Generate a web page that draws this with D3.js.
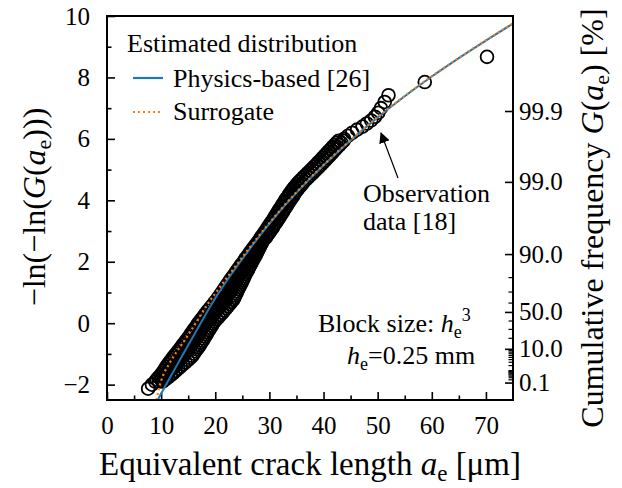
<!DOCTYPE html>
<html>
<head>
<meta charset="utf-8">
<script src="https://cdn.jsdelivr.net/npm/d3@7"></script>
<style>
  body { margin: 0; background: #fff; }
  svg text { font-family: "Liberation Serif", "Times New Roman", serif; fill: #000; }
</style>
</head>
<body>
<svg id="chart" width="622" height="488"></svg>
<script>
// x ticks (equivalent crack length, um)
const xMajor = [0, 10, 20, 30, 40, 50, 60, 70];
const xMinor = [5, 15, 25, 35, 45, 55, 65];
// left y ticks (reduced variate)
const yMajor = [-2, 0, 2, 4, 6, 8, 10];
const yMinor = [-1, 1, 3, 5, 7, 9];
// right axis: cumulative frequency
const gMajor = [0.999, 0.99, 0.9, 0.5, 0.1, 0.001];
const gLabels = ["99.9", "99.0", "90.0", "50.0", "10.0", "0.1"];
const gMinor = [0.8, 0.7, 0.6, 0.4, 0.3, 0.2, 0.09, 0.08, 0.07, 0.06, 0.05, 0.04, 0.03, 0.02, 0.01,
  0.009, 0.008, 0.007, 0.006, 0.005, 0.004, 0.003, 0.002];

// estimated distributions
const physAe = [9.35, 11, 13, 15, 17.5, 20, 23, 26, 29, 32, 36, 40, 45, 50, 55, 60, 65, 70, 75];
const physY = [-2.5, -1.97, -1.34, -0.72, 0.06, 0.81, 1.6, 2.33, 3.02, 3.66, 4.43, 5.14, 5.95, 6.7, 7.39, 8.03, 8.63, 9.2, 9.75];
const surrAe = [9.15, 9.5, 10.0, 10.6, 11.4, 12.3, 13.3, 14.4, 15.4, 16.4, 18.3, 20, 23, 26, 29, 32, 36, 40, 45, 50, 55, 60, 65, 70, 75];
const surrY = [-2.5, -2.2, -1.88, -1.6, -1.35, -1.08, -0.82, -0.54, -0.27, 0.0, 0.55, 0.97, 1.68, 2.38, 3.05, 3.68, 4.45, 5.15, 5.96, 6.71, 7.4, 8.04, 8.64, 9.21, 9.76];

// observation data [18]
// lowest points
const lowAe = [7.6, 8.3];
const lowY = [-2.13, -2.0];
// dense lower band: one row of y levels, left / middle / right edge of the band
const bandY = [-1.9, -1.83, -1.76, -1.69, -1.62, -1.55, -1.48, -1.41, -1.34, -1.27, -1.2, -1.13, -1.06, -0.99,
  -0.92, -0.85, -0.78, -0.71, -0.64, -0.57, -0.5, -0.43, -0.36, -0.29, -0.22, -0.15, -0.08, -0.01, 0.06, 0.13,
  0.2, 0.27, 0.34, 0.41, 0.48, 0.55, 0.62, 0.69, 0.76, 0.83, 0.9, 0.97, 1.04, 1.11, 1.18, 1.25, 1.32, 1.39,
  1.46, 1.53, 1.6, 1.67, 1.74, 1.81, 1.88, 1.95, 2.02, 2.09, 2.16, 2.23, 2.3, 2.37, 2.44, 2.51, 2.58, 2.65, 2.72];
const bandLeftAe = [8.9, 9.2, 9.55, 9.9, 10.2, 10.5, 10.75, 11.0, 11.25, 11.55, 11.85, 12.15, 12.45, 12.8,
  13.1, 13.4, 13.7, 14.0, 14.3, 14.6, 14.9, 15.2, 15.45, 15.75, 16.0, 16.3, 16.6, 16.85, 17.15, 17.45,
  17.75, 18.05, 18.35, 18.65, 19.0, 19.3, 19.65, 19.95, 20.3, 20.55, 20.85, 21.1, 21.4, 21.65, 21.9, 22.2, 22.45, 22.75,
  23.0, 23.3, 23.6, 23.85, 24.15, 24.45, 24.7, 25.0, 25.3, 25.55, 25.85, 26.15, 26.4, 26.7, 27.0, 27.3, 27.6, 27.9, 28.2];
const bandMidAe = [9.6, 10.0, 10.45, 10.85, 11.25, 11.6, 11.95, 12.3, 12.65, 13.05, 13.4, 13.8, 14.1, 14.45,
  14.7, 15.0, 15.3, 15.6, 15.85, 16.1, 16.4, 16.7, 16.9, 17.2, 17.4, 17.7, 18.0, 18.2, 18.5, 18.85,
  19.2, 19.5, 19.8, 20.15, 20.5, 20.8, 21.15, 21.45, 21.8, 22.0, 22.3, 22.5, 22.7, 22.95, 23.2, 23.45, 23.65, 23.9,
  24.1, 24.35, 24.6, 24.8, 25.1, 25.35, 25.55, 25.8, 26.05, 26.3, 26.55, 26.8, 27.05, 27.3, 27.55, 27.8, 28.05, 28.3, 28.55];
const bandRightAe = [10.3, 10.8, 11.3, 11.8, 12.25, 12.7, 13.15, 13.6, 14.05, 14.5, 14.95, 15.4, 15.75, 16.05,
  16.3, 16.6, 16.9, 17.15, 17.4, 17.65, 17.9, 18.15, 18.4, 18.6, 18.85, 19.1, 19.35, 19.55, 19.9, 20.25,
  20.6, 20.95, 21.3, 21.65, 22.0, 22.3, 22.65, 22.95, 23.3, 23.5, 23.7, 23.9, 24.05, 24.25, 24.45, 24.65, 24.85, 25.05,
  25.25, 25.4, 25.6, 25.8, 26.05, 26.25, 26.45, 26.65, 26.85, 27.05, 27.3, 27.5, 27.7, 27.9, 28.1, 28.3, 28.5, 28.7, 28.9];
// dense upper band: left / right edge
const upperY = [2.79, 2.86, 2.93, 3.0, 3.07, 3.14, 3.21, 3.28, 3.35, 3.42, 3.49, 3.56, 3.63, 3.7, 3.77, 3.84,
  3.91, 3.98, 4.05, 4.12, 4.19, 4.26, 4.33, 4.4, 4.47, 4.54, 4.61, 4.68, 4.75, 4.82, 4.89, 4.96, 5.03, 5.1,
  5.17, 5.24, 5.31, 5.38, 5.45, 5.52, 5.59, 5.66, 5.73, 5.8, 5.87, 5.94];
const upperLeftAe = [28.45, 28.7, 29.0, 29.25, 29.55, 29.8, 30.05, 30.35, 30.6, 30.85, 31.1, 31.35, 31.6, 31.85, 32.1, 32.35,
  32.6, 32.85, 33.1, 33.4, 33.65, 33.9, 34.2, 34.5, 34.85, 35.15, 35.5, 35.9, 36.3, 36.7, 37.1, 37.5, 37.9, 38.3,
  38.7, 39.05, 39.45, 39.8, 40.2, 40.55, 40.9, 41.3, 41.65, 42.05, 42.4, 42.8];
const upperRightAe = [29.35, 29.6, 29.9, 30.15, 30.45, 30.7, 30.95, 31.25, 31.5, 31.75, 32.0, 32.25, 32.5, 32.75, 33.0, 33.25,
  33.5, 33.75, 34.0, 34.3, 34.55, 34.8, 35.1, 35.4, 35.75, 36.05, 36.4, 36.8, 37.2, 37.6, 38.0, 38.4, 38.8, 39.2,
  39.6, 39.95, 40.35, 40.7, 41.1, 41.45, 41.8, 42.2, 42.55, 42.95, 43.3, 43.7];
// sparse largest cracks
const tailAe = [43.8, 44.5, 45.3, 46.2, 47.2, 48.0, 48.8, 49.5, 50.1, 50.6, 51.3, 52.0, 58.7, 70.2];
const tailY = [6.0, 6.1, 6.2, 6.3, 6.4, 6.5, 6.6, 6.72, 6.85, 7.0, 7.2, 7.42, 7.85, 8.67];

const pairs = (a, b) => a.map((v, i) => [v, b[i]]);
const observed = [].concat(
  pairs(lowAe, lowY),
  pairs(bandLeftAe, bandY),
  pairs(bandMidAe, bandY),
  pairs(bandRightAe, bandY),
  pairs(upperLeftAe, upperY),
  pairs(upperRightAe, upperY),
  pairs(tailAe, tailY)
);

const svg = d3.select("#chart");
const margin = { top: 16, right: 109, bottom: 88, left: 107 },
  width = 622 - margin.left - margin.right,
  height = 488 - margin.top - margin.bottom;

const x = d3.scaleLinear().domain([0, 75]).range([margin.left, margin.left + width]);
const y = d3.scaleLinear().domain([-2.5, 10]).range([margin.top + height, margin.top]);
const gumbel = (p) => -Math.log(-Math.log(p));

const tickFont = 25;

// bottom axis, ticks pointing inward
svg.append("g")
  .attr("transform", `translate(0,${margin.top + height})`)
  .call(d3.axisBottom(x).tickValues(xMajor).tickSizeInner(-8).tickSizeOuter(0).tickPadding(16))
  .call((g) => g.select(".domain").remove())
  .call((g) => g.selectAll("line").attr("stroke-width", 1.6))
  .call((g) => g.selectAll("text").attr("font-size", tickFont));
svg.append("g")
  .attr("transform", `translate(0,${margin.top + height})`)
  .call(d3.axisBottom(x).tickValues(xMinor).tickSizeInner(-4.5).tickSizeOuter(0).tickFormat(""))
  .call((g) => g.select(".domain").remove())
  .call((g) => g.selectAll("line").attr("stroke-width", 1.6));

// left axis
svg.append("g")
  .attr("transform", `translate(${margin.left},0)`)
  .call(d3.axisLeft(y).tickValues(yMajor).tickSizeInner(-8).tickSizeOuter(0).tickPadding(17)
    .tickFormat((d) => (d < 0 ? "\u2212" + Math.abs(d) : d)))
  .call((g) => g.select(".domain").remove())
  .call((g) => g.selectAll("line").attr("stroke-width", 1.6))
  .call((g) => g.selectAll("text").attr("font-size", tickFont));
svg.append("g")
  .attr("transform", `translate(${margin.left},0)`)
  .call(d3.axisLeft(y).tickValues(yMinor).tickSizeInner(-4.5).tickSizeOuter(0).tickFormat(""))
  .call((g) => g.select(".domain").remove())
  .call((g) => g.selectAll("line").attr("stroke-width", 1.6));

// right axis, cumulative frequency on the gumbel scale
svg.append("g")
  .attr("transform", `translate(${margin.left + width},0)`)
  .call(d3.axisRight(y).tickValues(gMajor.map(gumbel)).tickSizeInner(-8).tickSizeOuter(0).tickPadding(6)
    .tickFormat((d, i) => gLabels[i]))
  .call((g) => g.select(".domain").remove())
  .call((g) => g.selectAll("line").attr("stroke-width", 1.6))
  .call((g) => g.selectAll("text").attr("font-size", tickFont));
svg.append("g")
  .attr("transform", `translate(${margin.left + width},0)`)
  .call(d3.axisRight(y).tickValues(gMinor.map(gumbel)).tickSizeInner(-4.5).tickSizeOuter(0).tickFormat(""))
  .call((g) => g.select(".domain").remove())
  .call((g) => g.selectAll("line").attr("stroke-width", 1.2));

// clip for the marks
svg.append("clipPath").attr("id", "plot-clip")
  .append("rect")
  .attr("x", margin.left).attr("y", margin.top)
  .attr("width", width).attr("height", height);

// observation circles
svg.append("g")
  .attr("clip-path", "url(#plot-clip)")
  .selectAll("circle")
  .data(observed)
  .enter()
  .append("circle")
  .attr("cx", (d) => x(d[0]))
  .attr("cy", (d) => y(d[1]))
  .attr("r", 6.4)
  .attr("fill", "none")
  .attr("stroke", "#000")
  .attr("stroke-width", 1.8);

const line = d3.line().x((d) => x(d[0])).y((d) => y(d[1])).curve(d3.curveMonotoneX);

const curves = svg.append("g").attr("clip-path", "url(#plot-clip)");
curves.append("path")
  .attr("d", line(pairs(physAe, physY)))
  .attr("fill", "none")
  .attr("stroke", "#1f77b4")
  .attr("stroke-width", 2);
curves.append("path")
  .attr("d", line(pairs(surrAe, surrY)))
  .attr("fill", "none")
  .attr("stroke", "#ff7f0e")
  .attr("stroke-width", 2.2)
  .attr("stroke-dasharray", "2,3");

// frame
svg.append("rect")
  .attr("x", margin.left).attr("y", margin.top)
  .attr("width", width).attr("height", height)
  .attr("fill", "none")
  .attr("stroke", "#000")
  .attr("stroke-width", 2);

// legend
const textFont = 26;
svg.append("text").attr("x", 127).attr("y", 52).attr("font-size", textFont).text("Estimated distribution");
svg.append("line").attr("x1", 133).attr("x2", 163).attr("y1", 78).attr("y2", 78)
  .attr("stroke", "#1f77b4").attr("stroke-width", 2.2);
svg.append("text").attr("x", 173).attr("y", 87).attr("font-size", textFont).text("Physics-based [26]");
svg.append("line").attr("x1", 133).attr("x2", 163).attr("y1", 112).attr("y2", 112)
  .attr("stroke", "#ff7f0e").attr("stroke-width", 2.2).attr("stroke-dasharray", "2,3");
svg.append("text").attr("x", 173).attr("y", 120).attr("font-size", textFont).text("Surrogate");

// annotation with arrow
svg.append("defs").append("marker")
  .attr("id", "arrow-head")
  .attr("viewBox", "0 0 10 10")
  .attr("refX", 9).attr("refY", 5)
  .attr("markerWidth", 11).attr("markerHeight", 11)
  .attr("markerUnits", "userSpaceOnUse")
  .attr("orient", "auto")
  .append("path").attr("d", "M0,0 L10,5 L0,10 Z").attr("fill", "#000");
svg.append("line")
  .attr("x1", 398).attr("y1", 178).attr("x2", 381).attr("y2", 133)
  .attr("stroke", "#000").attr("stroke-width", 1.2)
  .attr("marker-end", "url(#arrow-head)");
svg.append("text").attr("x", 363).attr("y", 202).attr("font-size", textFont).text("Observation");
svg.append("text").attr("x", 363).attr("y", 230).attr("font-size", textFont).text("data [18]");

// block size note
const note1 = svg.append("text").attr("x", 318).attr("y", 332).attr("font-size", textFont);
note1.append("tspan").text("Block size: ");
note1.append("tspan").attr("font-style", "italic").text("h");
note1.append("tspan").attr("font-size", 18).attr("dy", 6).text("e");
note1.append("tspan").attr("font-size", 18).attr("dy", -17).text("3");
const note2 = svg.append("text").attr("x", 347).attr("y", 364).attr("font-size", textFont);
note2.append("tspan").attr("font-style", "italic").text("h");
note2.append("tspan").attr("font-size", 18).attr("dy", 6).text("e");
note2.append("tspan").attr("dy", -6).text("=0.25 mm");

// axis titles
const xt = svg.append("text").attr("x", 310).attr("y", 475).attr("text-anchor", "middle").attr("font-size", 33);
xt.append("tspan").text("Equivalent crack length ");
xt.append("tspan").attr("font-style", "italic").text("a");
xt.append("tspan").attr("font-size", 23).attr("dy", 6).text("e");
xt.append("tspan").attr("dy", -6).text(" [\u03bcm]");

const yt = svg.append("text")
  .attr("transform", "translate(45,207) rotate(-90)")
  .attr("text-anchor", "middle").attr("font-size", 32);
yt.append("tspan").text("\u2212ln(\u2212ln(");
yt.append("tspan").attr("font-style", "italic").text("G");
yt.append("tspan").text("(");
yt.append("tspan").attr("font-style", "italic").text("a");
yt.append("tspan").attr("font-size", 22).attr("dy", 6).text("e");
yt.append("tspan").attr("dy", -6).text(")))");

const rt = svg.append("text")
  .attr("transform", "translate(603,218) rotate(-90)")
  .attr("text-anchor", "middle").attr("font-size", 32);
rt.append("tspan").text("Cumulative frequency ");
rt.append("tspan").attr("font-style", "italic").text("G");
rt.append("tspan").text("(");
rt.append("tspan").attr("font-style", "italic").text("a");
rt.append("tspan").attr("font-size", 22).attr("dy", 6).text("e");
rt.append("tspan").attr("dy", -6).text(") [%]");
</script>
</body>
</html>
